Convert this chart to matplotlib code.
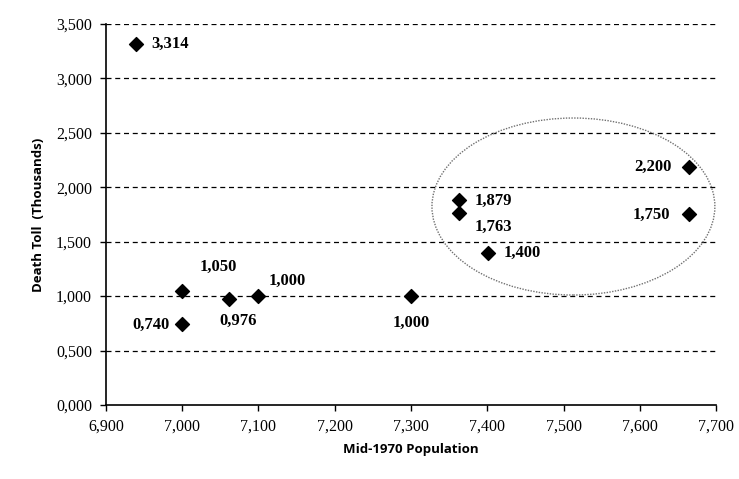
import matplotlib.pyplot as plt
from matplotlib.patches import Ellipse

# data
population = [6939, 7000, 7000, 7061, 7100, 7300, 7363, 7363, 7401, 7665, 7665]
deaths = [3314, 1050, 740, 976, 1000, 1000, 1879, 1763, 1400, 2185, 1750]
labels = ['3,314', '1,050', '0,740', '0,976', '1,000', '1,000',
          '1,879', '1,763', '1,400', '2,200', '1,750']

x_ticks = [6900, 7000, 7100, 7200, 7300, 7400, 7500, 7600, 7700]
x_ticklabels = ['6,900', '7,000', '7,100', '7,200', '7,300', '7,400', '7,500', '7,600', '7,700']
y_ticks = [0, 500, 1000, 1500, 2000, 2500, 3000, 3500]
y_ticklabels = ['0,000', '0,500', '1,000', '1,500', '2,000', '2,500', '3,000', '3,500']

# label offsets in points and alignment
offsets = [(11, 0, 'left'), (26, 17, 'center'), (-9, 0, 'right'), (7, -16, 'center'),
           (7, 11, 'left'), (0, -19, 'center'), (11, 0, 'left'), (11, -10, 'left'),
           (11, 0, 'left'), (-13, 0, 'right'), (-14, 0, 'right')]

fig = plt.figure(figsize=(7.39, 4.79), dpi=100)
ax = fig.add_axes([0.1434, 0.1545, 0.8255, 0.7955])

ax.set_xlim(6900, 7700)
ax.set_ylim(0, 3500)

for yv in y_ticks[1:]:
    ax.axhline(yv, color='black', lw=0.9, ls=(0, (4, 3)), zorder=1)

ax.scatter(population, deaths, marker='D', s=50, color='black', zorder=3)

for x, y, lab, (dx, dy, ha) in zip(population, deaths, labels, offsets):
    ax.annotate(lab, (x, y), xytext=(dx, dy), textcoords='offset points',
                ha=ha, va='center', fontsize=12, fontweight='bold',
                family='Liberation Serif')

ell = Ellipse((7513, 1823), 371, 1626, fill=False, edgecolor='#707070',
              lw=1.0, ls=(0, (1, 1)), zorder=2)
ax.add_patch(ell)

ax.set_xticks(x_ticks)
ax.set_xticklabels(x_ticklabels, family='Liberation Serif', fontsize=11.5)
ax.set_yticks(y_ticks)
ax.set_yticklabels(y_ticklabels, family='Liberation Serif', fontsize=11.5)
ax.tick_params(direction='out', length=4, width=1, pad=6)

ax.spines['top'].set_visible(False)
ax.spines['right'].set_visible(False)
ax.spines['left'].set_linewidth(1.2)
ax.spines['bottom'].set_linewidth(1.2)

ax.set_xlabel('Mid-1970 Population', fontsize=9.5, fontweight='bold',
              family='Open Sans', labelpad=6)
ax.set_ylabel('Death Toll  (Thousands)', fontsize=9.5, fontweight='bold',
              family='Open Sans', labelpad=8)

fig.savefig('out.png', dpi=100)
